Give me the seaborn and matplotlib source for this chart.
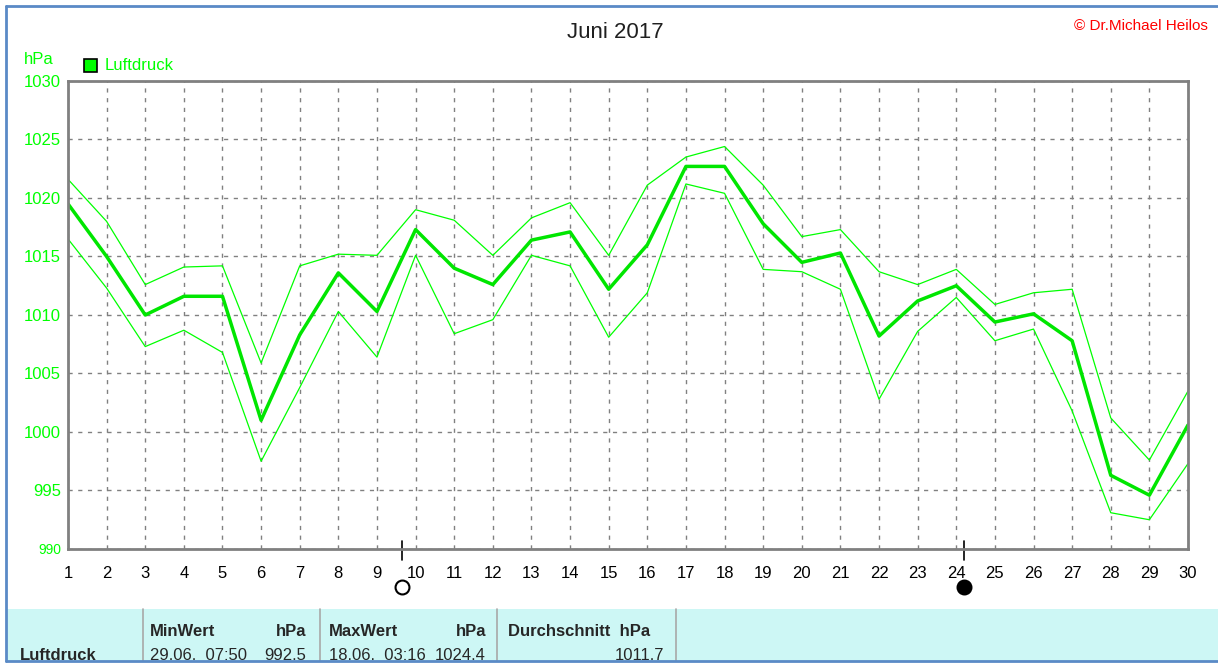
import matplotlib
matplotlib.use("Agg")
import matplotlib.pyplot as plt
import numpy as np
import pandas as pd
import seaborn as sns
from matplotlib.patches import Rectangle
from matplotlib.lines import Line2D

# Tageswerte Luftdruck Juni 2017 (hPa)
days = list(range(1, 31))
mean_hpa = [1019.5, 1015.0, 1010.0, 1011.6, 1011.6, 1001.0, 1008.3, 1013.6, 1010.3, 1017.3,
            1014.0, 1012.6, 1016.4, 1017.1, 1012.2, 1016.0, 1022.7, 1022.7, 1017.8, 1014.5,
            1015.3, 1008.2, 1011.2, 1012.5, 1009.4, 1010.1, 1007.8, 996.3, 994.6, 1000.6]
max_hpa = [1021.6, 1018.0, 1012.6, 1014.1, 1014.2, 1005.9, 1014.2, 1015.2, 1015.1, 1019.0,
           1018.1, 1015.1, 1018.3, 1019.6, 1015.1, 1021.1, 1023.5, 1024.4, 1021.1, 1016.7,
           1017.3, 1013.7, 1012.6, 1013.9, 1010.9, 1011.9, 1012.2, 1001.2, 997.6, 1003.5]
min_hpa = [1016.5, 1012.3, 1007.3, 1008.7, 1006.8, 997.5, 1003.8, 1010.3, 1006.4, 1015.1,
           1008.4, 1009.6, 1015.1, 1014.2, 1008.1, 1011.9, 1021.2, 1020.4, 1013.9, 1013.7,
           1012.2, 1002.8, 1008.6, 1011.5, 1007.8, 1008.8, 1001.8, 993.1, 992.5, 997.3]
y_ticks = [990, 995, 1000, 1005, 1010, 1015, 1020, 1025, 1030]
full_moon_day = 9.65
new_moon_day = 24.2

table_header = ["MinWert", "MaxWert", "Durchschnitt  hPa"]
table_values = [("29.06.  07:50", "992.5"), ("18.06.  03:16", "1024.4"), ("", "1011.7")]

W, H = 1218, 666
LIME = "#00ff00"
GRAY = "#808080"

sns.set_style("white")
plt.rcParams["font.family"] = ["Liberation Sans", "DejaVu Sans"]

fig = plt.figure(figsize=(W / 100, H / 100), dpi=100)
ax = fig.add_axes([68 / W, 1 - 549 / H, (1188 - 68) / W, (549 - 81) / H])


def px(x, y):
    return x / W, 1 - y / H


df = pd.DataFrame({"Tag": days, "mean": mean_hpa, "max": max_hpa, "min": min_hpa})
sns.lineplot(data=df, x="Tag", y="max", ax=ax, color=LIME, linewidth=0.9, legend=False)
sns.lineplot(data=df, x="Tag", y="min", ax=ax, color=LIME, linewidth=0.9, legend=False)
sns.lineplot(data=df, x="Tag", y="mean", ax=ax, color="#00e600", linewidth=2.5, legend=False)

ax.set_xlim(1, 30)
ax.set_ylim(990, 1030)
ax.set_xticks(days)
ax.set_yticks(y_ticks)
ax.set_xlabel("")
ax.set_ylabel("")
ax.grid(True, color=GRAY, linestyle=(0, (3, 4)), linewidth=1)
for s in ax.spines.values():
    s.set_color(GRAY)
    s.set_linewidth(2)
ax.tick_params(axis="both", direction="out", length=4, width=1, color=GRAY)
ax.tick_params(axis="x", labelsize=12, labelcolor="black", pad=8)
ax.tick_params(axis="y", labelsize=12, labelcolor=LIME, pad=1)
for lbl in ax.get_yticklabels():
    if lbl.get_text() == "990":
        lbl.set_fontsize(10)

# Mondphasen
tr = ax.get_xaxis_transform()
for d, fill in [(full_moon_day, "white"), (new_moon_day, "black")]:
    ax.add_line(Line2D([d, d], [0.017, -0.024], transform=tr, color="black",
                       linewidth=1.2, clip_on=False))
    ax.plot([d], [-0.081], transform=tr, marker="o", markersize=10,
            markerfacecolor=fill, markeredgecolor="black", markeredgewidth=1.5,
            clip_on=False)

# Titel, Copyright, Einheit, Legende
fig.text(*px(615, 32), "Juni 2017", ha="center", va="center", fontsize=16, color="#202020")
fig.text(*px(1208, 26), "\u00a9 Dr.Michael Heilos", ha="right", va="center", fontsize=11, color="#ff0000")
fig.text(*px(39, 60), "hPa", ha="center", va="center", fontsize=12, color=LIME)
fig.patches.append(Rectangle(px(84, 72), 13 / W, 13 / H, transform=fig.transFigure,
                             facecolor=LIME, edgecolor="black", linewidth=1.2))
fig.text(*px(105, 65), "Luftdruck", ha="left", va="center", fontsize=12, color=LIME)

# Tabelle unten
fig.patches.append(Rectangle(px(7, 661), (W - 7) / W, (661 - 609) / H,
                             transform=fig.transFigure, facecolor="#cdf7f5", edgecolor="none"))
for xs in [143, 320, 497, 676]:
    fig.add_artist(Line2D([xs / W, xs / W], [px(0, 609)[1], px(0, 661)[1]],
                          transform=fig.transFigure, color="#a8a8a8", linewidth=1.2))
fig.text(*px(20, 655), "Luftdruck", ha="left", va="center", fontsize=12, fontweight="bold")
cols = [(150, 306), (329, 486), (508, 664)]
for (x0, x1), head, (when, val) in zip(cols, table_header, table_values):
    fig.text(*px(x0, 631), head, ha="left", va="center", fontsize=12, fontweight="bold")
    if head != "Durchschnitt  hPa":
        fig.text(*px(x1, 631), "hPa", ha="right", va="center", fontsize=12, fontweight="bold")
    if when:
        fig.text(*px(x0, 655), when, ha="left", va="center", fontsize=12)
    fig.text(*px(x1, 655), val, ha="right", va="center", fontsize=12)

# blauer Rahmen
border = "#5a8ac6"
fig.add_artist(Line2D([px(6, 0)[0]] * 2, [px(0, 6)[1], px(0, 661)[1]], transform=fig.transFigure,
                      color=border, linewidth=2))
fig.add_artist(Line2D([px(6, 0)[0], 1], [px(0, 6)[1]] * 2, transform=fig.transFigure,
                      color=border, linewidth=2))
fig.add_artist(Line2D([px(6, 0)[0], 1], [px(0, 661)[1]] * 2, transform=fig.transFigure,
                      color=border, linewidth=2))

fig.savefig("out.png", dpi=100)
